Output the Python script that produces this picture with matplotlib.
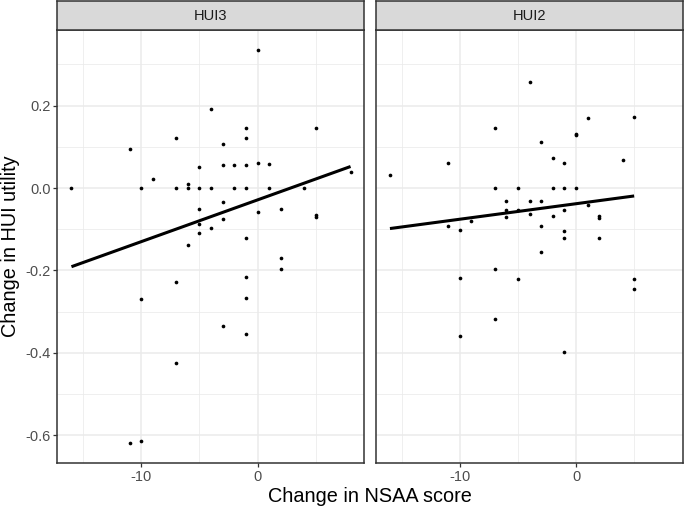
import numpy as np
import matplotlib
matplotlib.use("Agg")
import matplotlib.pyplot as plt

plt.rcParams['font.family'] = ['Liberation Sans', 'DejaVu Sans']

# HUI3 panel data
hui3_x = [-16, -10, -11, -9, -7, -7, -6, -6, -5, -5, -5, -5, -5, -6,
          -4, -4, -4, -3, -3, -3, -3, -2, -2, -1, -1, -1, -1, -1,
          0, 0, 0, 1, 1, 2, 2, 2, 4, 5, 5, 5, 8,
          -7, -10, -1, -1, -3, -1, -7, -11, -10]
hui3_y = [0.0, 0.0, 0.096, 0.023, 0.122, 0.0, 0.011, 0.0, 0.051, 0.0, -0.052, -0.088, -0.110, -0.138,
          0.192, 0.0, -0.096, 0.107, 0.055, -0.035, -0.074, 0.055, 0.0, 0.147, 0.121, 0.055, 0.0, -0.121,
          0.336, 0.060, -0.057, 0.058, 0.0, -0.052, -0.169, -0.196, 0.0, 0.147, -0.065, -0.070, 0.039,
          -0.229, -0.270, -0.216, -0.268, -0.335, -0.355, -0.424, -0.619, -0.614]

# HUI2 panel data
hui2_x = [-16, -11, -11, -10, -9, -7, -7, -7, -6, -6, -6, -5, -5,
          -4, -4, -4, -3, -3, -3, -3, -2, -2, -2, -1, -1, -1, -1, -1,
          0, 0, 0, 1, 1, 2, 2, 2, 4, 5,
          -10, -5, 5, 5, -7, -10, -1]
hui2_y = [0.031, 0.062, -0.093, -0.102, -0.081, 0.147, 0.0, -0.196, -0.032, -0.053, -0.070, 0.0, -0.053,
          0.257, -0.032, -0.064, 0.113, -0.032, -0.093, -0.155, 0.074, 0.0, -0.069, 0.062, 0.0, -0.053, -0.104, -0.122,
          0.132, 0.130, 0.0, 0.169, -0.040, -0.068, -0.072, -0.122, 0.068, 0.173,
          -0.219, -0.220, -0.220, -0.244, -0.317, -0.358, -0.398]

panels = [("HUI3", hui3_x, hui3_y), ("HUI2", hui2_x, hui2_y)]

x_ticks = [-10, 0]
y_ticks = [-0.6, -0.4, -0.2, 0.0, 0.2]
y_tick_labels = ["-0.6", "-0.4", "-0.2", "0.0", "0.2"]

W, H = 685, 509
fig = plt.figure(figsize=(W / 100, H / 100), dpi=100)

all_x = np.array(hui3_x + hui2_x, dtype=float)
all_y = np.array(hui3_y + hui2_y, dtype=float)
xr = all_x.max() - all_x.min()
yr = all_y.max() - all_y.min()
xlim = (all_x.min() - 0.05 * xr, all_x.max() + 0.05 * xr)
ylim = (all_y.min() - 0.05 * yr, all_y.max() + 0.05 * yr)

panel_lefts = [57.5, 376]
pw = 307
top, bottom = 30, 462.7
strip_top = 1

edge = "#333333"
for i, (name, xs, ys) in enumerate(panels):
    l = panel_lefts[i]
    ax = fig.add_axes([l / W, (H - bottom) / H, pw / W, (bottom - top) / H])
    ax.set_xlim(*xlim)
    ax.set_ylim(*ylim)
    ax.set_facecolor("white")
    minor_x = [-15, -5, 5]
    minor_y = [-0.5, -0.3, -0.1, 0.1, 0.3]
    for mx in minor_x:
        ax.axvline(mx, color="#EBEBEB", lw=0.55, zorder=0)
    for my in minor_y:
        ax.axhline(my, color="#EBEBEB", lw=0.55, zorder=0)
    for tx in x_ticks:
        ax.axvline(tx, color="#EBEBEB", lw=1.1, zorder=0)
    for ty in y_ticks:
        ax.axhline(ty, color="#EBEBEB", lw=1.1, zorder=0)
    xs_a = np.array(xs, dtype=float)
    ys_a = np.array(ys, dtype=float)
    ax.scatter(xs_a, ys_a, s=7, color="black", zorder=3, linewidths=0)
    slope, intercept = np.polyfit(xs_a, ys_a, 1)
    lx = np.array([xs_a.min(), xs_a.max()])
    ax.plot(lx, intercept + slope * lx, color="black", lw=2.2, zorder=4,
            solid_capstyle="butt")
    for sp in ax.spines.values():
        sp.set_color(edge)
        sp.set_linewidth(1.1)
    ax.set_xticks(x_ticks)
    ax.set_xticklabels([str(t) for t in x_ticks])
    ax.set_yticks(y_ticks)
    ax.tick_params(colors=edge, labelcolor="#4D4D4D", labelsize=10.5, length=3, width=0.9, pad=2)
    if i == 0:
        ax.set_yticklabels(y_tick_labels)
    else:
        ax.set_yticklabels([])
        ax.tick_params(axis="y", length=0)

    sax = fig.add_axes([l / W, (H - top) / H, pw / W, (top - strip_top) / H])
    sax.set_facecolor("#D9D9D9")
    sax.set_xticks([])
    sax.set_yticks([])
    for sp in sax.spines.values():
        sp.set_color(edge)
        sp.set_linewidth(1.1)
    sax.text(0.5, 0.5, name, ha="center", va="center", fontsize=10.5,
             color="#1A1A1A", transform=sax.transAxes)

fig.text((57.5 + 683) / 2 / W, 1 - 497 / H, "Change in NSAA score", ha="center",
         va="center", fontsize=14.3, color="black")
fig.text(10.5 / W, 1 - 246 / H, "Change in HUI utility", ha="center", va="center",
         rotation=90, fontsize=14.3, color="black")

fig.savefig("out.png", dpi=100)
